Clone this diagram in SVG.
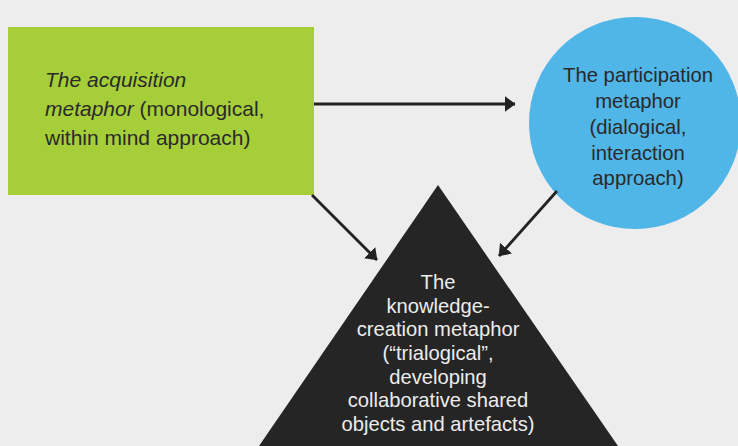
<svg xmlns="http://www.w3.org/2000/svg" width="738" height="446" viewBox="0 0 738 446">
<style>
.t{font-family:"Liberation Sans",Arial,sans-serif;font-size:20.3px;fill:#2a2a2a}
.g{font-size:21px}
.k{font-size:20.2px;fill:#ececec}
.c{stroke:#222;stroke-width:2.8;fill:none}
</style>
<defs>
<marker id="ah" viewBox="0 0 11 16" refX="10.5" refY="8" markerWidth="11" markerHeight="16" orient="auto" markerUnits="userSpaceOnUse">
<path d="M0,0 L11,8 L0,16 Z" fill="#222"/>
</marker>
</defs>
<rect width="738" height="446" fill="#ededed"/>
<g id="acquisition">
<rect x="8" y="27" width="306" height="168" fill="#a6ce39"/>
<text class="t g" x="45" y="87"><tspan font-style="italic">The acquisition</tspan></text>
<text class="t g" x="45" y="116"><tspan font-style="italic">metaphor</tspan> (monological,</text>
<text class="t g" x="45" y="145">within mind approach)</text>
</g>
<g id="participation">
<circle cx="635" cy="123" r="106" fill="#4fb6e7"/>
<text class="t" text-anchor="middle" x="638" y="82">The participation</text>
<text class="t" text-anchor="middle" x="638" y="108">metaphor</text>
<text class="t" text-anchor="middle" x="638" y="134">(dialogical,</text>
<text class="t" text-anchor="middle" x="638" y="160">interaction</text>
<text class="t" text-anchor="middle" x="638" y="185">approach)</text>
</g>
<g id="knowledge-creation">
<polygon points="438,185 618,446 259,446" fill="#252525"/>
<text class="t k" text-anchor="middle" x="438" y="289">The</text>
<text class="t k" text-anchor="middle" x="438" y="313">knowledge-</text>
<text class="t k" text-anchor="middle" x="438" y="336">creation metaphor</text>
<text class="t k" text-anchor="middle" x="438" y="360">(“trialogical”,</text>
<text class="t k" text-anchor="middle" x="438" y="384">developing</text>
<text class="t k" text-anchor="middle" x="438" y="407">collaborative shared</text>
<text class="t k" text-anchor="middle" x="438" y="431">objects and artefacts)</text>
</g>
<g id="connectors">
<line class="c" x1="314" y1="104" x2="515" y2="104" marker-end="url(#ah)"/>
<line class="c" x1="312" y1="195" x2="377" y2="260" marker-end="url(#ah)"/>
<line class="c" x1="557" y1="191" x2="499" y2="256" marker-end="url(#ah)"/>
</g>
</svg>
